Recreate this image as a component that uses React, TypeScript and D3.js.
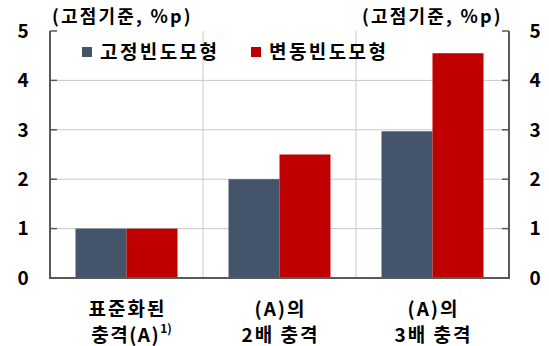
import React from "react";
import * as d3 from "d3";

const categories = ["표준화된|충격(A)", "(A)의|2배 충격", "(A)의|3배 충격"];
const seriesNames = ["고정빈도모형", "변동빈도모형"];
const fixedValues = [1, 2, 2.97];
const variableValues = [1, 2.5, 4.55];
const yTicks = [0, 1, 2, 3, 4, 5];
const unitLabel = "(고점기준, %p)";

const colors = ["#44546A", "#C00000"];
const FONT = "'Noto Sans CJK KR', 'Noto Sans', sans-serif";

export default function App() {
  const W = 549, H = 346;
  const left = 50, right = 509, top = 31, bottom = 278;
  const x = d3.scaleBand<number>().domain([0, 1, 2]).range([left, right]).padding(0);
  const inner = d3.scaleBand<number>().domain([0, 1]).range([0, x.bandwidth()]).paddingOuter(0.5).paddingInner(0);
  const y = d3.scaleLinear().domain([0, 5]).range([bottom, top]);
  const series = [fixedValues, variableValues];

  return (
    <svg width={W} height={H} style={{ position: "absolute", left: 0, top: 0 }} fontFamily={FONT}>
      <rect width={W} height={H} fill="#fff" />
      {yTicks.filter(t => t > 0 && t < 5).map(t => (
        <line key={t} x1={left} x2={right} y1={y(t)} y2={y(t)} stroke="#c8c8c8" strokeWidth={1} />
      ))}
      {[1, 2].map(i => (
        <line key={i} x1={x(i)!} x2={x(i)!} y1={top} y2={bottom} stroke="#c8c8c8" strokeWidth={1} />
      ))}
      {series.map((vals, si) =>
        vals.map((v, ci) => (
          <rect key={`${si}-${ci}`} x={x(ci)! + inner(si)!} width={inner.bandwidth()} y={y(v)} height={y(0) - y(v)} fill={colors[si]} />
        ))
      )}
      <line x1={left} x2={left} y1={top} y2={bottom} stroke="#595959" strokeWidth={2} />
      <line x1={right} x2={right} y1={top} y2={bottom} stroke="#595959" strokeWidth={2} />
      <line x1={left - 1} x2={right + 1} y1={bottom} y2={bottom} stroke="#595959" strokeWidth={2} />
      {yTicks.map(t => (
        <g key={t}>
          <line x1={left} x2={left + 7} y1={y(t)} y2={y(t)} stroke="#595959" strokeWidth={1.5} />
          <line x1={right - 7} x2={right} y1={y(t)} y2={y(t)} stroke="#595959" strokeWidth={1.5} />
          <text x={23} y={y(t)} dy="0.36em" textAnchor="middle" fontSize={19} fontWeight="bold" fill="#000">{t}</text>
          <text x={535} y={y(t)} dy="0.36em" textAnchor="middle" fontSize={19} fontWeight="bold" fill="#000">{t}</text>
        </g>
      ))}
      <text x={52} y={23} fontSize={18} letterSpacing={2.2} fontWeight="bold" fill="#000">{unitLabel}</text>
      <text x={362} y={23} fontSize={18} letterSpacing={2.2} fontWeight="bold" fill="#000">{unitLabel}</text>
      {seriesNames.map((n, i) => {
        const lx = [82, 251][i];
        return (
          <g key={n}>
            <rect x={lx} y={47} width={10} height={10} fill={colors[i]} />
            <text x={lx + 18} y={52} dy="0.36em" fontSize={19} letterSpacing={2.4} fontWeight="bold" fill="#000">{n}</text>
          </g>
        );
      })}
      {categories.map((c, i) => {
        const [l1, l2] = c.split("|");
        const cx = x(i)! + x.bandwidth() / 2 + 1;
        return (
          <g key={i}>
            <text x={cx} y={316} textAnchor="middle" fontSize={19} letterSpacing={2} fontWeight="bold" fill="#000">{l1}</text>
            {i === 0 ? (
              <text x={cx + 4} y={342} textAnchor="middle" fontSize={19} letterSpacing={1.5} fontWeight="bold" fill="#000">
                {l2}
                <tspan fontSize={12} dy={-9} letterSpacing={0}>1)</tspan>
              </text>
            ) : (
              <text x={cx} y={342} textAnchor="middle" fontSize={19} letterSpacing={2} fontWeight="bold" fill="#000">{l2}</text>
            )}
          </g>
        );
      })}
    </svg>
  );
}
